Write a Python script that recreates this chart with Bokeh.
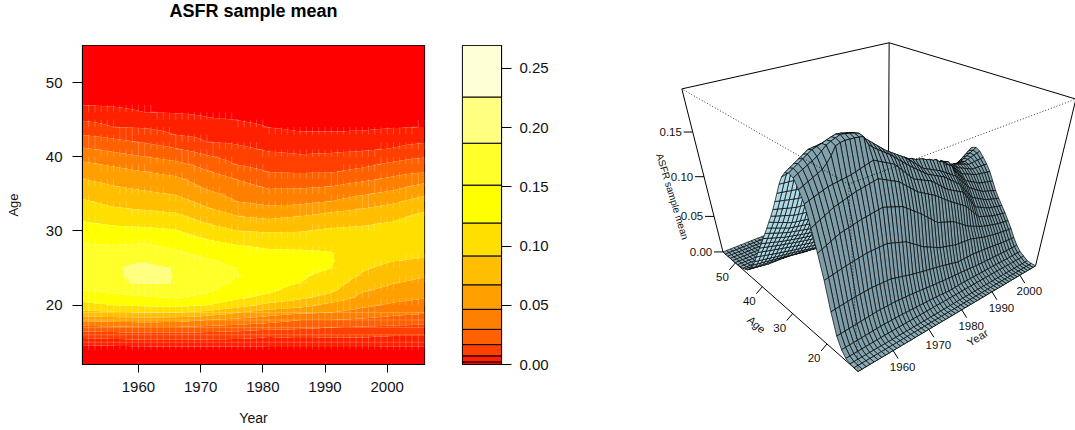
import math
import numpy as np
from bokeh.core.properties import value
from bokeh.embed import file_html
from bokeh.models import FixedTicker, NumeralTickFormatter, Range1d
from bokeh.plotting import figure
from bokeh.resources import INLINE

FONT = "Liberation Sans"
years = list(range(1951, 2007))
ages = list(range(12, 56))

# Mean ASFR (units of 1/10000), one list per age, one value per year 1951..2006
a12 = [0] * 56
a13 = [1] * 56
a14 = [5,5,5,4,4, 4,4,4,3,3, 3,3,3,3,3, 3,3,3,3,3, 3,3,4,4,4, 5,6,6,7,7, 8,8,8,8,8, 8,8,8,8,8, 8,8,8,8,8, 8,8,8,8,7, 7,7,7,7,7, 7]
a15 = [33,34,35,37,38, 39,40,41,43,44, 45,46,46,47,47, 47,47,47,47,47, 47,47,47,47,47, 47,47,47,46,46, 46,46,47,47,48, 48,48,48,48,48, 48,48,48,48,48, 48,47,46,45,44, 44,44,44,44,44, 44]
a16 = [105,107,109,111,113, 115,117,119,122,124, 126,126,126,126,126, 126,124,122,120,118, 115,113,111,109,107, 105,101,97,93,89, 85,86,88,89,91, 92,91,91,90,90, 89,89,88,88,87, 87,85,83,82,80, 79,79,79,79,79, 79]
a17 = [242,246,249,253,256, 260,264,268,271,275, 279,279,279,279,279, 279,275,271,268,264, 260,254,249,243,238, 232,227,222,217,212, 207,204,200,197,193, 190,186,181,177,172, 168,165,162,160,157, 154,152,150,147,145, 143,142,141,140,139, 138]
a18 = [507,513,518,524,529, 535,538,541,543,546, 549,546,543,541,538, 535,521,507,494,480, 466,455,444,432,421, 410,400,390,380,370, 360,347,335,322,310, 297,297,297,297,297, 297,292,287,281,276, 271,264,258,251,245, 238,234,230,226,222, 218]
a19 = [836,845,854,864,873, 882,889,896,903,910, 917,917,917,917,917, 917,901,885,868,852, 836,803,770,739,706, 673,651,628,606,583, 560,546,533,519,506, 492,487,482,476,471, 466,452,437,423,408, 394,384,374,364,354, 344,338,332,325,319, 313]
a20 = [1094,1114,1134,1155,1175, 1195,1205,1215,1224,1234, 1244,1250,1256,1263,1269, 1275,1259,1243,1227,1211, 1195,1162,1128,1095,1061, 1028,990,951,913,874, 836,820,803,787,770, 754,724,694,664,634, 604,584,564,545,525, 505,492,478,465,451, 438,429,420,412,403, 394]
a21 = [1315,1337,1359,1380,1402, 1424,1437,1450,1464,1477, 1490,1498,1506,1514,1522, 1530,1509,1488,1466,1445, 1424,1387,1350,1314,1277, 1240,1216,1192,1167,1143, 1119,1088,1057,1025,994, 963,935,908,880,853, 825,781,736,693,648, 604,588,571,555,538, 522,512,502,493,483, 473]
a22 = [1515,1530,1545,1560,1575, 1590,1596,1602,1608,1614, 1620,1632,1644,1656,1668, 1680,1658,1636,1614,1592, 1570,1526,1482,1438,1394, 1350,1330,1310,1290,1270, 1250,1216,1182,1147,1113, 1079,1056,1034,1011,989, 966,913,860,807,754, 701,681,661,641,621, 601,590,579,567,556, 545]
a23 = [1620,1640,1660,1680,1700, 1720,1760,1810,1880,1895, 1900,1898,1895,1890,1880, 1800,1760,1730,1700,1670, 1640,1604,1568,1532,1496, 1460,1428,1396,1364,1332, 1300,1279,1258,1237,1216, 1195,1163,1131,1100,1068, 1036,988,940,891,843, 795,772,749,727,704, 681,668,655,642,629, 616]
a24 = [1700,1722,1744,1766,1788, 1810,1843,1880,1900,1915, 1930,1925,1915,1905,1890, 1840,1804,1768,1732,1696, 1660,1632,1604,1576,1548, 1520,1484,1448,1412,1376, 1340,1320,1300,1280,1260, 1240,1213,1186,1159,1132, 1105,1062,1019,975,932, 889,864,838,813,787, 762,748,734,721,707, 693]
a25 = [1720,1746,1772,1798,1824, 1850,1862,1875,1890,1905, 1915,1910,1900,1890,1875, 1810,1766,1732,1698,1664, 1630,1604,1578,1552,1526, 1500,1490,1462,1450,1425, 1415,1405,1380,1370,1345, 1340,1300,1290,1240,1225, 1195,1126,1082,1038,994, 950,929,907,887,865, 844,833,822,812,801, 790]
a26 = [1700,1726,1752,1778,1804, 1830,1835,1840,1845,1850, 1850,1830,1800,1770,1740, 1700,1668,1636,1604,1572, 1540,1518,1496,1474,1452, 1430,1425,1400,1395,1375, 1370,1355,1350,1325,1325, 1300,1295,1265,1265,1230, 1225,1166,1127,1088,1049, 1010,993,976,959,942, 925,918,910,903,895, 888]
a27 = [1640,1652,1664,1676,1688, 1700,1704,1708,1712,1716, 1720,1690,1660,1630,1600, 1570,1542,1514,1485,1457, 1429,1409,1389,1370,1350, 1330,1316,1302,1288,1274, 1260,1257,1254,1251,1248, 1245,1237,1229,1221,1213, 1205,1176,1147,1118,1089, 1060,1042,1024,1006,988, 970,968,966,964,962, 960]
a28 = [1550,1546,1542,1538,1534, 1530,1536,1542,1548,1554, 1560,1537,1514,1492,1469, 1446,1418,1390,1362,1334, 1306,1287,1268,1248,1229, 1210,1197,1184,1170,1157, 1144,1143,1141,1140,1138, 1137,1139,1140,1142,1143, 1145,1132,1119,1106,1093, 1080,1065,1050,1035,1020, 1005,1008,1011,1014,1017, 1020]
a29 = [1440,1433,1426,1418,1411, 1404,1406,1408,1409,1411, 1413,1397,1381,1364,1348, 1332,1302,1272,1242,1212, 1182,1158,1134,1111,1087, 1063,1054,1045,1036,1027, 1018,1019,1019,1020,1020, 1021,1029,1037,1044,1052, 1060,1058,1056,1054,1052, 1050,1044,1038,1032,1026, 1020,1031,1042,1053,1064, 1075]
a30 = [1334,1323,1313,1302,1292, 1281,1278,1276,1273,1271, 1268,1257,1247,1236,1226, 1215,1182,1149,1115,1082, 1049,1023,996,970,943, 917,912,906,901,895, 890,893,896,899,902, 905,916,927,938,949, 960,965,970,975,980, 985,988,991,994,997, 1000,1020,1040,1060,1080, 1100]
a31 = [1227,1214,1201,1188,1175, 1162,1157,1151,1146,1140, 1135,1127,1119,1110,1102, 1094,1059,1023,988,952, 917,893,868,844,819, 795,787,779,770,762, 754,761,768,775,782, 789,801,813,826,838, 850,857,864,871,878, 885,897,909,921,933, 945,972,999,1026,1053, 1080]
a32 = [1130,1114,1098,1082,1066, 1050,1043,1036,1028,1021, 1014,1005,996,986,977, 968,936,903,871,838, 806,779,752,727,700, 673,663,653,644,634, 624,634,644,653,663, 673,686,700,713,727, 740,748,756,763,771, 779,792,805,820,833, 846,875,904,932,961, 990]
a33 = [1038,1018,998,979,959, 939,931,923,914,906, 898,890,881,873,864, 856,824,792,759,727, 695,669,643,616,590, 564,552,540,526,514, 502,507,511,516,520, 525,543,561,578,596, 614,626,638,649,661, 673,687,701,716,730, 744,768,792,816,840, 864]
a34 = [945,926,907,888,869, 850,841,832,822,813, 804,794,784,774,764, 754,723,693,662,632, 601,573,545,516,488, 460,451,442,433,424, 415,416,418,419,421, 422,431,440,448,457, 466,484,503,521,540, 558,574,590,604,620, 636,660,685,709,734, 758]
a35 = [854,836,819,801,784, 766,755,744,733,722, 711,700,689,679,668, 657,628,599,569,540, 511,490,468,447,425, 404,391,379,366,354, 341,342,344,345,347, 348,355,361,368,374, 381,394,407,421,434, 447,461,474,488,501, 515,541,568,594,621, 647]
a36 = [764,747,731,714,698, 681,670,659,647,636, 625,615,606,596,587, 577,549,520,492,463, 435,418,400,383,365, 348,333,319,304,290, 275,276,276,277,277, 278,282,286,289,293, 297,308,319,331,342, 353,365,377,389,401, 413,434,455,477,498, 518]
a37 = [673,659,644,630,615, 601,590,579,568,557, 546,536,526,517,507, 498,473,448,422,397, 372,356,339,323,306, 290,276,261,247,232, 218,217,216,215,214, 213,215,218,220,223, 225,234,242,251,259, 268,279,290,302,313, 324,338,352,366,380, 394]
a38 = [587,574,561,548,535, 522,511,500,488,477, 466,456,446,435,425, 415,394,373,352,331, 310,292,275,257,240, 222,211,200,186,175, 164,163,161,160,158, 157,158,158,159,159, 160,167,175,182,190, 197,208,219,230,241, 252,259,265,272,278, 285]
a39 = [500,488,476,463,451, 439,427,416,404,393, 381,371,361,351,341, 331,314,297,279,262, 245,228,211,195,178, 161,154,147,142,135, 128,126,124,123,121, 119,120,120,121,121, 122,126,130,134,138, 142,151,160,169,178, 187,194,202,209,216, 223]
a40 = [410,398,386,374,362, 350,339,329,318,308, 297,288,279,269,260, 251,237,223,209,195, 181,170,158,147,135, 124,117,110,105,98, 91,89,87,84,82, 80,81,82,83,84, 85,88,91,93,96, 99,105,112,118,125, 131,137,144,150,157, 163]
a41 = [316,306,297,287,278, 268,259,251,242,234, 225,215,205,196,186, 176,166,156,146,136, 126,118,111,103,96, 88,83,79,74,70, 65,64,63,62,61, 60,60,60,61,61, 61,62,63,63,64, 65,68,70,73,75, 78,84,91,97,104, 110]
a42 = [236,228,220,213,205, 197,189,181,174,166, 158,150,143,135,128, 120,111,101,92,82, 73,71,69,68,66, 64,61,58,56,53, 50,49,47,46,44, 43,43,43,44,44, 44,45,45,46,46, 47,49,51,52,54, 56,58,60,62,64, 66]
a43 = [163,157,151,144,138, 132,127,123,118,113, 108,101,93,86,78, 71,68,65,63,60, 57,56,54,53,51, 50,47,44,42,39, 36,34,32,31,29, 27,27,27,27,27, 27,27,27,28,28, 28,30,32,33,35, 37,38,40,41,43, 44]
a44 = [110,103,95,88,80, 73,72,70,69,67, 66,64,61,59,56, 54,51,49,46,44, 41,40,39,37,36, 35,32,29,27,24, 21,20,19,17,16, 15,15,15,15,15, 15,15,15,16,16, 16,17,18,18,19, 20,20,21,21,22, 22]
a45 = [66,63,61,58,56, 53,51,49,48,46, 44,43,41,40,38, 37,35,32,30,27, 25,24,23,23,22, 21,19,18,16,15, 13,12,11,11,10, 9,9,9,9,9, 9,9,9,10,10, 10,10,11,11,12, 12,12,12,13,13, 13]
a46 = [43,41,39,38,36, 34,32,29,27,24, 22,22,21,21,20, 20,19,19,18,18, 17,16,16,15,15, 14,13,12,10,9, 8,8,7,7,6, 6,6,6,6,6, 6,6,6,6,6, 6,6,6,7,7, 7,7,7,8,8, 8]
a47 = [21,20,20,19,19, 18,17,16,15,14, 13,13,13,12,12, 12,12,11,11,10, 10,10,9,9,8, 8,7,7,6,6, 5,5,5,4,4, 4,4,4,4,4, 4,4,4,4,4, 4,4,4,4,4, 4,4,4,5,5, 5]
a48 = [12,12,11,11,10, 10,10,9,9,8, 8,8,8,7,7, 7,7,7,6,6, 6,6,6,5,5, 5,5,4,4,3, 3,3,3,2,2, 2,2,2,2,2, 2,2,2,2,2, 2,2,2,2,2, 2,2,2,3,3, 3]
a49 = [6,6,6,5,5, 5,5,5,4,4, 4,4,4,4,4, 4,4,4,3,3, 3,3,3,3,3, 3,3,2,2,2, 2,2,2,1,1, 1,1,1,1,1, 1,1,1,1,1, 1,1,1,1,1, 1,1,1,1,1, 1]
a50 = [3,3,3,3,3, 3,3,3,2,2, 2,2,2,2,2, 2,2,2,2,2, 2,2,2,2,2, 2,2,2,1,1, 1,1,1,1,1, 1,1,1,1,1, 1,1,1,1,1, 1,1,1,1,1, 1,1,1,1,1, 1]
a51 = [1] * 56
a52 = [1] * 56
a53 = [0] * 56
a54 = [0] * 56
a55 = [0] * 56

asfr_rows = [a12, a13, a14, a15, a16, a17, a18, a19, a20, a21, a22, a23, a24, a25, a26, a27,
             a28, a29, a30, a31, a32, a33, a34, a35, a36, a37, a38, a39, a40, a41, a42, a43,
             a44, a45, a46, a47, a48, a49, a50, a51, a52, a53, a54, a55]

levels = [0.0, 0.0022, 0.0073, 0.0168, 0.0297, 0.0466, 0.0673, 0.0917, 0.1195, 0.1515, 0.1869, 0.2259, 0.2694]
heat = ["#FF0000", "#FF2000", "#FF4000", "#FF6000", "#FF8000", "#FF9F00",
        "#FFBF00", "#FFDF00", "#FFFF00", "#FFFF2A", "#FFFF80", "#FFFFD5"]
year_ticks = [1960, 1970, 1980, 1990, 2000]
age_ticks = [20, 30, 40, 50]
bar_ticks = [0.0, 0.05, 0.10, 0.15, 0.20, 0.25]
persp_age_ticks = [20, 30, 40, 50]
persp_z_ticks = [0.0, 0.05, 0.10, 0.15]

Z = np.array(asfr_rows, dtype=float) / 10000.0
X = np.array(years, dtype=float)
Y = np.array(ages, dtype=float)
ZMAX = float(Z.max())

# ---------- left panel: filled contours ----------
p1 = figure(frame_width=342, frame_height=319, output_backend="svg", toolbar_location=None,
            title=None, x_range=Range1d(1951, 2006), y_range=Range1d(12, 55),
            min_border_left=82, min_border_right=21, min_border_top=45, min_border_bottom=60,
            styles={"position": "absolute", "left": "0px", "top": "0px"})
p1.contour(X, Y, Z, levels=[-0.0001] + levels[1:], fill_color=heat, line_color=None)

band = np.searchsorted(levels, Z, side="right")
sx0, sy0, sx1, sy1 = [], [], [], []
for j in range(len(ages) - 1):
    for i in range(len(years)):
        if band[j, i] != band[j + 1, i]:
            sx0.append(X[i]); sx1.append(X[i]); sy0.append(Y[j]); sy1.append(Y[j + 1])
for j in range(len(ages)):
    for i in range(len(years) - 1):
        if band[j, i] != band[j, i + 1] or (15 <= ages[j] <= 19):
            sx0.append(X[i]); sx1.append(X[i + 1]); sy0.append(Y[j]); sy1.append(Y[j])
p1.segment(sx0, sy0, sx1, sy1, line_color="#ffffff", line_alpha=0.28, line_width=0.8)

p1.grid.visible = False
p1.outline_line_color = "black"
p1.outline_line_width = 1.2
p1.xaxis.ticker = FixedTicker(ticks=year_ticks)
p1.yaxis.ticker = FixedTicker(ticks=age_ticks)
p1.xaxis.axis_label = "Year"
p1.yaxis.axis_label = "Age"
for ax in (p1.xaxis[0], p1.yaxis[0]):
    ax.major_tick_in = 0
    ax.minor_tick_out = 0
    ax.minor_tick_in = 0
    ax.major_tick_line_color = "black"
    ax.axis_line_color = "black"
    ax.major_label_text_font = FONT
    ax.major_label_text_font_size = "15px"
    ax.major_label_text_color = "#111111"
    ax.axis_label_text_font = FONT
    ax.axis_label_text_font_style = "normal"
    ax.axis_label_text_color = "#111111"
p1.xaxis.axis_label_text_font_size = "14px"
p1.yaxis.axis_label_text_font_size = "13px"
p1.xaxis.major_tick_out = 8
p1.yaxis.major_tick_out = 10
p1.xaxis.major_label_standoff = 9
p1.yaxis.major_label_standoff = 10
p1.xaxis.axis_label_standoff = 15
p1.yaxis.axis_label_standoff = 22
p1.yaxis.major_label_orientation = "horizontal"

# ---------- title strip ----------
p0 = figure(width=445, height=24, output_backend="svg", toolbar_location=None,
            title=None, x_range=Range1d(0, 445), y_range=Range1d(24, 0),
            x_axis_location=None, y_axis_location=None,
            min_border=0, outline_line_color=None, background_fill_alpha=0, border_fill_alpha=0,
            styles={"position": "absolute", "left": "0px", "top": "0px"})
p0.grid.visible = False
p0.text([253], [10], text=["ASFR sample mean"], text_font=value(FONT), text_font_size="18px",
        text_font_style="bold", text_color="black", text_align="center", text_baseline="middle")

# ---------- colour key ----------
p2 = figure(frame_width=39, frame_height=319, output_backend="svg", toolbar_location=None,
            title=None, x_range=Range1d(0, 1), y_range=Range1d(levels[0], levels[-1]), y_axis_location="right",
            min_border_left=17, min_border_right=59, min_border_top=45, min_border_bottom=60,
            styles={"position": "absolute", "left": "445px", "top": "0px"})
p2.quad(left=0, right=1, bottom=levels[:-1], top=levels[1:], fill_color=heat,
        line_color="black", line_width=1)
p2.grid.visible = False
p2.xaxis.visible = False
p2.outline_line_color = "black"
p2.outline_line_width = 1.2
ax = p2.yaxis[0]
ax.ticker = FixedTicker(ticks=bar_ticks)
ax.formatter = NumeralTickFormatter(format="0.00")
ax.major_tick_in = 0
ax.minor_tick_out = 0
ax.minor_tick_in = 0
ax.major_tick_out = 10
ax.major_tick_line_color = "black"
ax.axis_line_color = "black"
ax.major_label_standoff = 8
ax.major_label_text_font = FONT
ax.major_label_text_font_size = "15px"
ax.major_label_text_color = "#111111"

# ---------- right panel: perspective surface ----------
# viewing calibration: where box points (year, age, z-fraction) fall on the page
view_pts = [(1951, 12, 0.0), (1951, 55, 0.0), (2006, 12, 0.0), (1951, 55, 1.0), (2006, 55, 1.0), (2006, 12, 1.0),
            (1951, 55, 0.05 / ZMAX), (1951, 55, 0.10 / ZMAX), (1951, 55, 0.15 / ZMAX)]
view_px = [(858, 371), (722, 250.7), (1035, 265.7), (681, 87.7), (889, 42.3), (1075, 98),
           (714, 215.7), (703, 176.7), (692.7, 132.7)]

def norm3(yr, ag, frac):
    return (np.asarray(yr, float) - 1951.0) / 55.0, (np.asarray(ag, float) - 12.0) / 43.0, np.asarray(frac, float)

rows_dlt = []
for (yr, ag, fr), (px, py) in zip(view_pts, view_px):
    u, v, w = norm3(yr, ag, fr)
    px, py = px / 1000.0, py / 1000.0
    rows_dlt.append([u, v, w, 1, 0, 0, 0, 0, -px * u, -px * v, -px * w, -px])
    rows_dlt.append([0, 0, 0, 0, u, v, w, 1, -py * u, -py * v, -py * w, -py])
M = np.linalg.svd(np.array(rows_dlt, dtype=float))[2][-1].reshape(3, 4)

def project(yr, ag, z_value):
    u, v, w = norm3(yr, ag, np.asarray(z_value, float) / ZMAX)
    pts = np.stack([u, v, w, np.ones_like(u)], axis=0)
    q = np.tensordot(M, pts, axes=(1, 0))
    return 1000.0 * q[0] / q[2], 1000.0 * q[1] / q[2]

p3 = figure(width=515, height=430, output_backend="svg", toolbar_location=None,
            x_range=Range1d(560, 1075), y_range=Range1d(430, 0),
            x_axis_location=None, y_axis_location=None,
            min_border=0, outline_line_color=None,
            styles={"position": "absolute", "left": "560px", "top": "0px"})
p3.grid.visible = False

def edge(a, b, **kw):
    xa, ya = project(*a)
    xb, yb = project(*b)
    p3.line([float(xa), float(xb)], [float(ya), float(yb)], **kw)

solid = dict(line_color="black", line_width=1)
edge((1951, 55, ZMAX), (2006, 55, ZMAX), **solid)
edge((2006, 55, ZMAX), (2006, 12, ZMAX), **solid)
edge((2006, 55, 0), (2006, 55, ZMAX), **solid)
edge((1951, 55, 0), (1951, 55, ZMAX), **solid)
edge((2006, 12, 0), (2006, 12, ZMAX), **solid)
edge((1951, 12, 0), (1951, 55, 0), **solid)
edge((1951, 12, 0), (2006, 12, 0), **solid)

# axes
ink = "#111111"
tx, ty = project(year_ticks, [12] * len(year_ticks), [0.0] * len(year_ticks))
p3.segment(tx, ty, tx + 5, ty + 8, line_color="black", line_width=1)
tick_font = dict(text_font=value(FONT), text_font_size="11.5px", text_color=ink,
                 text_align="center", text_baseline="middle")
p3.text(tx + 9.5, ty + 16, text=[str(t) for t in year_ticks], **tick_font)
ax_, ay_ = project([1951] * 4, persp_age_ticks, [0.0] * 4)
p3.segment(ax_, ay_, ax_ - 6, ay_ + 7, line_color="black", line_width=1)
p3.text(ax_ - 13, ay_ + 14, text=[str(t) for t in persp_age_ticks], **tick_font)
zx_, zy_ = project([1951] * 4, [55] * 4, persp_z_ticks)
p3.segment(zx_, zy_, zx_ - 9, zy_, line_color="black", line_width=1)
p3.text(zx_ - 22, zy_, text=["%.2f" % t for t in persp_z_ticks], **tick_font)

# surface quads, far corner first
xs_all, ys_all = project(np.tile(X, (len(Y), 1)), np.tile(Y[:, None], (1, len(X))), Z)
quad_x, quad_y, quad_c = [], [], []
for j in range(len(ages) - 2, -1, -1):
    for i in range(len(years) - 2, -1, -1):
        quad_x.append([xs_all[j, i], xs_all[j, i + 1], xs_all[j + 1, i + 1], xs_all[j + 1, i]])
        quad_y.append([ys_all[j, i], ys_all[j, i + 1], ys_all[j + 1, i + 1], ys_all[j + 1, i]])
        dzdv = (Z[j + 1, i] + Z[j + 1, i + 1] - Z[j, i] - Z[j, i + 1]) / 2.0 / ZMAX * 43.0
        dzdu = (Z[j, i + 1] + Z[j + 1, i + 1] - Z[j, i] - Z[j + 1, i]) / 2.0 / ZMAX * 55.0
        nv = -dzdv / math.sqrt(1.0 + dzdv ** 2 + dzdu ** 2)
        shade = 0.80 + (0.22 * nv if nv > 0 else 0.07 * nv)
        quad_c.append("#%02x%02x%02x" % (int(173 * shade), int(216 * shade), int(230 * shade)))
p3.patches(quad_x, quad_y, fill_color=quad_c, line_color="black", line_width=0.7)

dotted = dict(line_color="black", line_width=0.8, line_dash="1 2")
edge((1951, 12, ZMAX), (1951, 55, ZMAX), **dotted)
edge((1951, 12, ZMAX), (2006, 12, ZMAX), **dotted)
edge((1951, 12, 0), (1951, 12, ZMAX), **dotted)

label_font = dict(text_font=value(FONT), text_color=ink, text_align="center", text_baseline="middle")
p3.text([756], [324], text=["Age"], angle=[math.radians(-40)], text_font_size="11px", **label_font)
p3.text([977], [337], text=["Year"], angle=[math.radians(31)], text_font_size="11px", **label_font)
p3.text([672], [196], text=["ASFR sample mean"], angle=[math.radians(-73)], text_font_size="10px", **label_font)

open("out.html", "w").write(file_html([p1, p0, p2, p3], INLINE))
